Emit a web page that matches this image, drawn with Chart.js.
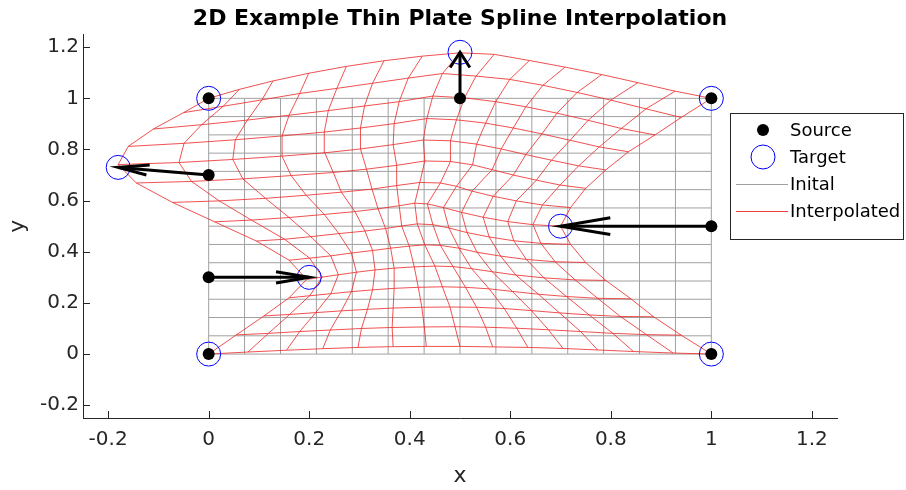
<!DOCTYPE html>
<html>
<head>
<meta charset="utf-8">
<script src="https://cdn.jsdelivr.net/npm/chart.js@4.4.1/dist/chart.umd.min.js"></script>
<style>
  html, body { margin: 0; padding: 0; background: #fff; }
</style>
</head>
<body>
<canvas id="myChart" width="906" height="490"></canvas>
<script>
// initial grid positions (15 x 15 grid on the unit square)
const gridTicks = [0, 0.0714, 0.1429, 0.2143, 0.2857, 0.3571, 0.4286, 0.5, 0.5714, 0.6429, 0.7143, 0.7857, 0.8571, 0.9286, 1];
const xTicks = [-0.2, 0, 0.2, 0.4, 0.6, 0.8, 1, 1.2];
const yTicks = [-0.2, 0, 0.2, 0.4, 0.6, 0.8, 1, 1.2];

// control points
const sourceX = [0, 0, 0, 0, 0.5, 1, 1, 1];
const sourceY = [0, 0.3, 0.7, 1, 1, 1, 0.5, 0];
const targetX = [0, 0.2, -0.18, 0, 0.5, 1, 0.7, 1];
const targetY = [0, 0.3, 0.73, 1, 1.18, 1, 0.5, 0];

// interpolated grid vertices, one row per grid line
const warpedX = [
  [0, 0.078, 0.155, 0.227, 0.297, 0.367, 0.433, 0.5, 0.565, 0.635, 0.705, 0.774, 0.845, 0.924, 1],
  [0.055, 0.119, 0.181, 0.242, 0.304, 0.365, 0.429, 0.49, 0.551, 0.613, 0.676, 0.74, 0.804, 0.871, 0.94],
  [0.11, 0.161, 0.213, 0.264, 0.316, 0.367, 0.424, 0.48, 0.533, 0.588, 0.642, 0.698, 0.757, 0.819, 0.885],
  [0.16, 0.201, 0.243, 0.284, 0.326, 0.369, 0.417, 0.465, 0.511, 0.558, 0.604, 0.656, 0.712, 0.774, 0.84],
  [0.195, 0.226, 0.258, 0.294, 0.331, 0.369, 0.409, 0.45, 0.486, 0.523, 0.564, 0.611, 0.667, 0.729, 0.79],
  [0.16, 0.201, 0.243, 0.284, 0.326, 0.362, 0.399, 0.43, 0.461, 0.498, 0.534, 0.581, 0.632, 0.689, 0.75],
  [0.095, 0.151, 0.203, 0.259, 0.311, 0.352, 0.384, 0.415, 0.446, 0.478, 0.514, 0.558, 0.607, 0.661, 0.72],
  [0.012, 0.085, 0.16, 0.23, 0.291, 0.337, 0.379, 0.41, 0.435, 0.467, 0.503, 0.546, 0.595, 0.645, 0.7],
  [-0.072, 0.021, 0.113, 0.194, 0.264, 0.325, 0.374, 0.42, 0.461, 0.493, 0.524, 0.566, 0.612, 0.664, 0.72],
  [-0.144, -0.034, 0.068, 0.164, 0.248, 0.314, 0.374, 0.43, 0.481, 0.525, 0.564, 0.606, 0.652, 0.699, 0.75],
  [-0.18, -0.059, 0.048, 0.146, 0.231, 0.302, 0.367, 0.427, 0.481, 0.533, 0.582, 0.631, 0.682, 0.736, 0.79],
  [-0.16, -0.049, 0.053, 0.146, 0.23, 0.302, 0.369, 0.434, 0.493, 0.551, 0.606, 0.663, 0.719, 0.777, 0.835],
  [-0.11, -0.014, 0.077, 0.16, 0.238, 0.31, 0.379, 0.446, 0.509, 0.571, 0.631, 0.693, 0.755, 0.821, 0.888],
  [-0.05, 0.029, 0.106, 0.181, 0.255, 0.326, 0.397, 0.465, 0.532, 0.599, 0.665, 0.733, 0.8, 0.87, 0.94],
  [0, 0.061, 0.128, 0.199, 0.274, 0.349, 0.425, 0.5, 0.568, 0.638, 0.709, 0.782, 0.854, 0.928, 1]
];
const warpedY = [
  [0, 0.008, 0.015, 0.021, 0.026, 0.029, 0.03, 0.03, 0.028, 0.026, 0.022, 0.016, 0.01, 0.004, 0],
  [0.075, 0.081, 0.088, 0.094, 0.1, 0.104, 0.106, 0.107, 0.105, 0.101, 0.095, 0.088, 0.081, 0.076, 0.074],
  [0.149, 0.155, 0.162, 0.169, 0.175, 0.18, 0.183, 0.184, 0.183, 0.178, 0.17, 0.161, 0.153, 0.147, 0.146],
  [0.22, 0.228, 0.236, 0.244, 0.251, 0.257, 0.261, 0.263, 0.261, 0.255, 0.245, 0.234, 0.225, 0.218, 0.216],
  [0.292, 0.301, 0.31, 0.32, 0.329, 0.336, 0.341, 0.344, 0.342, 0.334, 0.322, 0.309, 0.298, 0.29, 0.288],
  [0.367, 0.375, 0.384, 0.395, 0.405, 0.414, 0.422, 0.427, 0.425, 0.414, 0.398, 0.383, 0.37, 0.361, 0.358],
  [0.442, 0.449, 0.459, 0.471, 0.481, 0.491, 0.501, 0.509, 0.506, 0.493, 0.475, 0.458, 0.443, 0.433, 0.429],
  [0.517, 0.524, 0.534, 0.546, 0.557, 0.568, 0.58, 0.59, 0.587, 0.573, 0.554, 0.535, 0.518, 0.506, 0.5],
  [0.593, 0.599, 0.609, 0.621, 0.633, 0.645, 0.659, 0.671, 0.669, 0.656, 0.637, 0.617, 0.599, 0.583, 0.573],
  [0.669, 0.675, 0.685, 0.698, 0.71, 0.723, 0.738, 0.755, 0.753, 0.74, 0.721, 0.7, 0.68, 0.661, 0.648],
  [0.741, 0.749, 0.761, 0.774, 0.787, 0.802, 0.819, 0.837, 0.834, 0.821, 0.802, 0.78, 0.758, 0.736, 0.72],
  [0.812, 0.824, 0.838, 0.853, 0.868, 0.884, 0.901, 0.921, 0.916, 0.903, 0.884, 0.861, 0.836, 0.81, 0.791],
  [0.88, 0.897, 0.915, 0.934, 0.952, 0.97, 0.987, 1.009, 1.002, 0.987, 0.967, 0.942, 0.914, 0.882, 0.857],
  [0.944, 0.969, 0.994, 1.019, 1.039, 1.059, 1.079, 1.097, 1.087, 1.074, 1.051, 1.023, 0.993, 0.959, 0.925],
  [1, 1.035, 1.068, 1.098, 1.125, 1.147, 1.165, 1.178, 1.172, 1.148, 1.122, 1.093, 1.061, 1.028, 1]
];

const legendLabels = ["Source", "Target", "Inital", "Interpolated"];

const FONT = "'DejaVu Sans', Verdana, sans-serif";
const RED = "rgba(236, 40, 40, 0.9)";
const GREY = "#a0a0a0";

function lineSet(points, color, width) {
  return {
    data: points,
    showLine: true,
    borderColor: color,
    borderWidth: width,
    pointRadius: 0,
    pointHoverRadius: 0,
    fill: false,
    tension: 0
  };
}

const datasets = [];
datasets.push({
  label: legendLabels[0],
  data: sourceX.map((x, k) => ({x: x, y: sourceY[k]})),
  showLine: false,
  pointRadius: 6,
  pointBackgroundColor: "#000",
  pointBorderColor: "#000",
  pointBorderWidth: 0
});
datasets.push({
  label: legendLabels[1],
  data: targetX.map((x, k) => ({x: x, y: targetY[k]})),
  showLine: false,
  pointRadius: 12,
  pointBackgroundColor: "rgba(0,0,0,0)",
  pointBorderColor: "#0000ff",
  pointBorderWidth: 1
});
// interpolated grid: rows, then columns
for (let j = 0; j < warpedX.length; j++) {
  datasets.push(lineSet(warpedX[j].map((x, i) => ({x: x, y: warpedY[j][i]})), RED, 0.9));
}
for (let i = 0; i < gridTicks.length; i++) {
  datasets.push(lineSet(warpedX.map((row, j) => ({x: row[i], y: warpedY[j][i]})), RED, 0.9));
}
// initial grid
const g0 = gridTicks[0], g1 = gridTicks[gridTicks.length - 1];
gridTicks.forEach(t => {
  datasets.push(lineSet([{x: g0, y: t}, {x: g1, y: t}], GREY, 1));
  datasets.push(lineSet([{x: t, y: g0}, {x: t, y: g1}], GREY, 1));
});

// quiver style arrows from source to target (head built like matlab's quiver)
const arrows = {
  id: "arrows",
  afterDatasetsDraw(chart) {
    const {ctx, scales: {x, y}} = chart;
    const alpha = 0.33, beta = 0.33;
    ctx.save();
    ctx.strokeStyle = "#000";
    ctx.lineWidth = 3;
    ctx.lineCap = "butt";
    ctx.lineJoin = "miter";
    for (let k = 0; k < sourceX.length; k++) {
      const u = targetX[k] - sourceX[k], v = targetY[k] - sourceY[k];
      if (Math.abs(u) < 1e-9 && Math.abs(v) < 1e-9) continue;
      const tx = targetX[k], ty = targetY[k];
      ctx.beginPath();
      ctx.moveTo(x.getPixelForValue(sourceX[k]), y.getPixelForValue(sourceY[k]));
      ctx.lineTo(x.getPixelForValue(tx), y.getPixelForValue(ty));
      ctx.stroke();
      ctx.beginPath();
      ctx.moveTo(x.getPixelForValue(tx - alpha * (u + beta * v)), y.getPixelForValue(ty - alpha * (v - beta * u)));
      ctx.lineTo(x.getPixelForValue(tx), y.getPixelForValue(ty));
      ctx.lineTo(x.getPixelForValue(tx - alpha * (u - beta * v)), y.getPixelForValue(ty - alpha * (v + beta * u)));
      ctx.stroke();
    }
    ctx.restore();
  }
};

// ticks pointing into the axes, like matlab
const insideTicks = {
  id: "insideTicks",
  afterDraw(chart) {
    const {ctx, scales: {x, y}, chartArea: a} = chart;
    ctx.save();
    ctx.strokeStyle = "#262626";
    ctx.lineWidth = 1;
    ctx.beginPath();
    xTicks.forEach(v => {
      const p = Math.round(x.getPixelForValue(v)) + 0.5;
      ctx.moveTo(p, a.bottom);
      ctx.lineTo(p, a.bottom - 7);
    });
    yTicks.forEach(v => {
      const p = Math.round(y.getPixelForValue(v)) + 0.5;
      ctx.moveTo(a.left, p);
      ctx.lineTo(a.left + 7, p);
    });
    ctx.stroke();
    ctx.restore();
  }
};

// boxed legend in the upper right
const boxLegend = {
  id: "boxLegend",
  afterDraw(chart) {
    const ctx = chart.ctx;
    const left = 730.5, top = 113.5, w = 173, h = 126;
    ctx.save();
    ctx.fillStyle = "#fff";
    ctx.fillRect(left, top, w, h);
    ctx.strokeStyle = "#262626";
    ctx.lineWidth = 1;
    ctx.strokeRect(left, top, w, h);
    const mx = 763, rows = [130, 157, 184, 211];
    // Source
    ctx.fillStyle = "#000";
    ctx.beginPath(); ctx.arc(mx, rows[0], 6, 0, Math.PI * 2); ctx.fill();
    // Target
    ctx.strokeStyle = "#0000ff";
    ctx.beginPath(); ctx.arc(mx, rows[1], 12, 0, Math.PI * 2); ctx.stroke();
    // Inital
    ctx.strokeStyle = GREY;
    ctx.beginPath(); ctx.moveTo(736, rows[2] + 0.5); ctx.lineTo(788, rows[2] + 0.5); ctx.stroke();
    // Interpolated
    ctx.strokeStyle = RED;
    ctx.beginPath(); ctx.moveTo(736, rows[3] + 0.5); ctx.lineTo(788, rows[3] + 0.5); ctx.stroke();
    ctx.fillStyle = "#000";
    ctx.font = "18px " + FONT;
    ctx.textBaseline = "middle";
    ctx.textAlign = "left";
    legendLabels.forEach((t, k) => ctx.fillText(t, 790, rows[k] + 1));
    ctx.restore();
  }
};

const fmt = v => String(Math.round(v * 10) / 10);

new Chart("myChart", {
  type: "scatter",
  data: {datasets: datasets},
  plugins: [arrows, insideTicks, boxLegend],
  options: {
    responsive: false,
    animation: false,
    devicePixelRatio: 1,
    layout: {padding: {left: 0, right: 69, top: 0, bottom: 0}},
    plugins: {
      legend: {display: false},
      tooltip: {enabled: false},
      title: {
        display: true,
        text: "2D Example Thin Plate Spline Interpolation",
        color: "#000",
        fullSize: false,
        font: {family: FONT, size: 22, weight: "bold"},
        padding: {top: 6, bottom: 2}
      }
    },
    scales: {
      x: {
        type: "linear",
        min: -0.25,
        max: 1.25,
        afterBuildTicks: s => { s.ticks = xTicks.map(v => ({value: v})); },
        afterFit: s => { s.height = 72; },
        grid: {display: false, drawTicks: false},
        border: {display: true, color: "#262626", width: 1},
        ticks: {
          color: "#262626",
          padding: 10,
          maxRotation: 0,
          font: {family: FONT, size: 20},
          callback: v => fmt(v)
        },
        title: {
          display: true,
          text: "x",
          color: "#262626",
          font: {family: FONT, size: 22},
          padding: {top: 0, bottom: 1}
        }
      },
      y: {
        type: "linear",
        min: -0.25,
        max: 1.25,
        afterBuildTicks: s => { s.ticks = yTicks.map(v => ({value: v})); },
        afterFit: s => { s.width = 83; },
        grid: {display: false, drawTicks: false},
        border: {display: true, color: "#262626", width: 1},
        ticks: {
          color: "#262626",
          padding: 4,
          font: {family: FONT, size: 20},
          callback: v => fmt(v)
        },
        title: {
          display: true,
          text: "y",
          color: "#262626",
          font: {family: FONT, size: 22},
          padding: {top: 5, bottom: 0}
        }
      }
    }
  }
});
</script>
</body>
</html>
